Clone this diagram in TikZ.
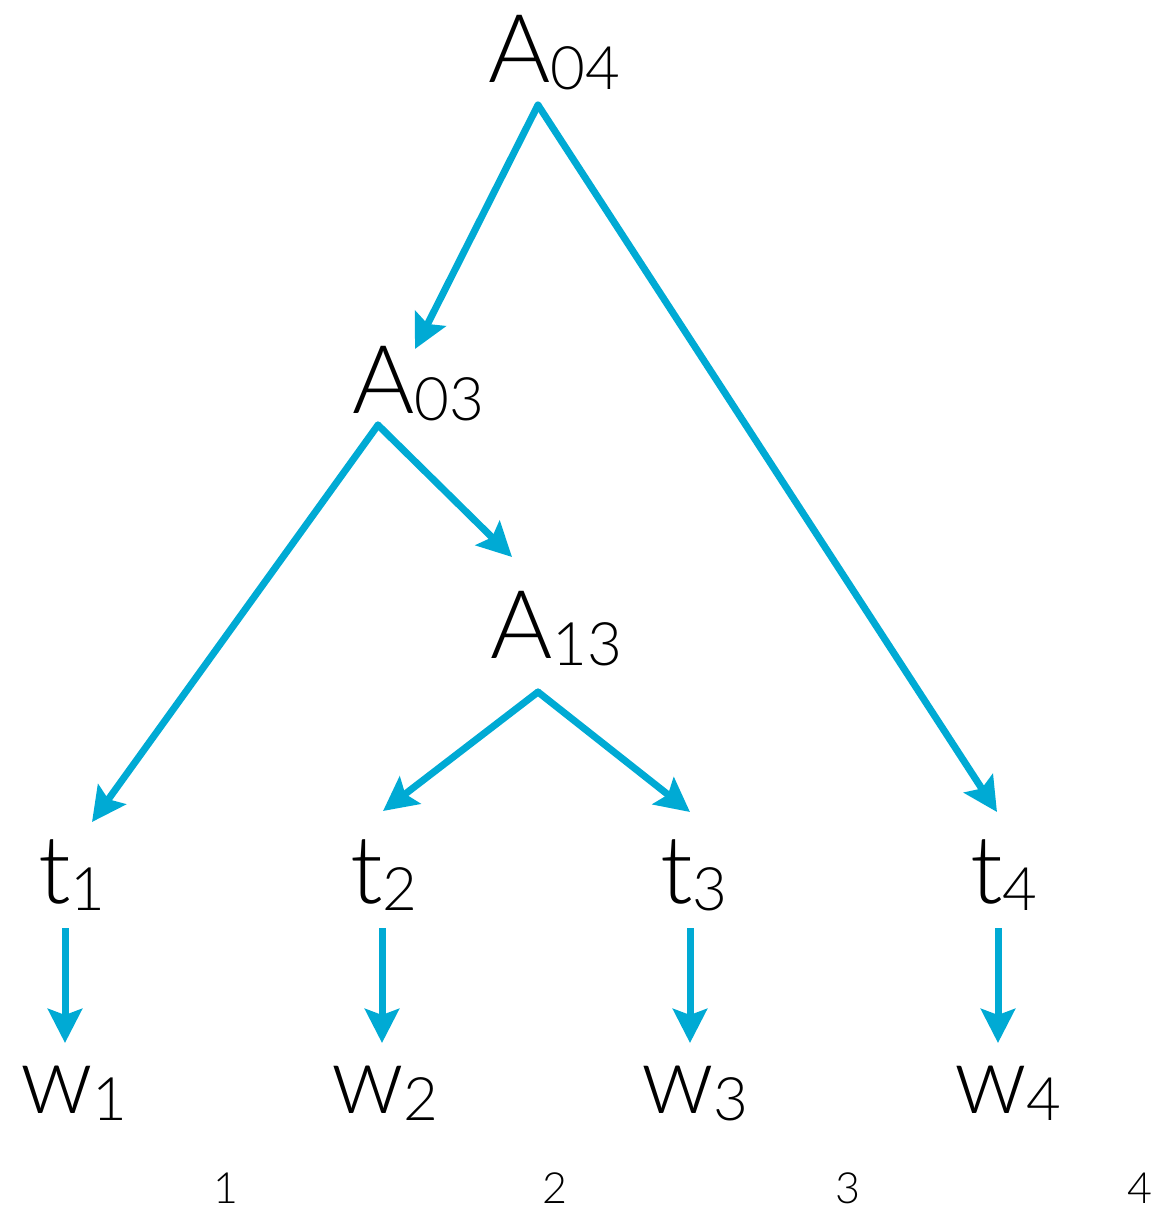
\documentclass[tikz,border=0pt]{standalone}
\usepackage{fontspec}
\setmainfont{Lato}[UprightFont={* Light}]
\usetikzlibrary{arrows.meta}
\definecolor{edgeblue}{RGB}{0,170,212}
% symbol with a lowered index in a smaller size
\newcommand{\treesym}[2]{{\fontsize{95}{95}\selectfont #1\raisebox{-7pt}{\fontsize{60}{60}\selectfont #2}}}
\begin{document}
\begin{tikzpicture}[x=1pt,y=-1pt,
  sym/.style={inner sep=0pt, outer sep=0pt, anchor=base west},
  posnum/.style={inner sep=0pt, outer sep=0pt, anchor=base, font=\fontsize{43}{43}\selectfont},
  link/.style={draw=edgeblue, line width=7pt, line cap=round,
    -{Stealth[length=34pt,width=34pt,inset=6pt]}},
  vlink/.style={link, line cap=butt}]
\useasboundingbox (0,0) rectangle (1165,1211);

% internal nodes
\node[sym] (A04) at (488,82) {\treesym{A}{04}};
\node[sym] (A03) at (352,413) {\treesym{A}{03}};
\node[sym] (A13) at (490,658) {\treesym{A}{13}};

% tags
\node[sym] (t1) at (38,903) {\treesym{t}{1}};
\node[sym] (t2) at (350,903) {\treesym{t}{2}};
\node[sym] (t3) at (660,903) {\treesym{t}{3}};
\node[sym] (t4) at (970,903) {\treesym{t}{4}};

% words
\node[sym] (w1) at (20,1113) {\treesym{w}{1}};
\node[sym] (w2) at (331,1113) {\treesym{w}{2}};
\node[sym] (w3) at (641,1113) {\treesym{w}{3}};
\node[sym] (w4) at (954,1113) {\treesym{w}{4}};

% positions
\node[posnum] (p1) at (226,1203) {1};
\node[posnum] (p2) at (555,1203) {2};
\node[posnum] (p3) at (848,1203) {3};
\node[posnum] (p4) at (1140,1203) {4};

% connector end points
\coordinate (A04-out) at (538,105);
\coordinate (A03-out) at (378,425);
\coordinate (A13-out) at (538,692);
\coordinate (A03-in) at (415,349);
\coordinate (A13-in) at (512,557);
\coordinate (t1-in) at (92,822);
\coordinate (t2-in) at (383,811);
\coordinate (t3-in) at (690,812);
\coordinate (t4-in) at (997,812);
\foreach \i/\x in {1/65,2/382,3/690,4/998}{
  \coordinate (t\i-out) at (\x,928);
  \coordinate (w\i-in) at (\x,1043);
}

% tree edges
\draw[link] (A04-out) -- (A03-in);
\draw[link] (A04-out) -- (t4-in);
\draw[link] (A03-out) -- (t1-in);
\draw[link] (A03-out) -- (A13-in);
\draw[link] (A13-out) -- (t2-in);
\draw[link] (A13-out) -- (t3-in);
\foreach \i in {1,...,4}{
  \draw[vlink] (t\i-out) -- (w\i-in);
}
\end{tikzpicture}
\end{document}
